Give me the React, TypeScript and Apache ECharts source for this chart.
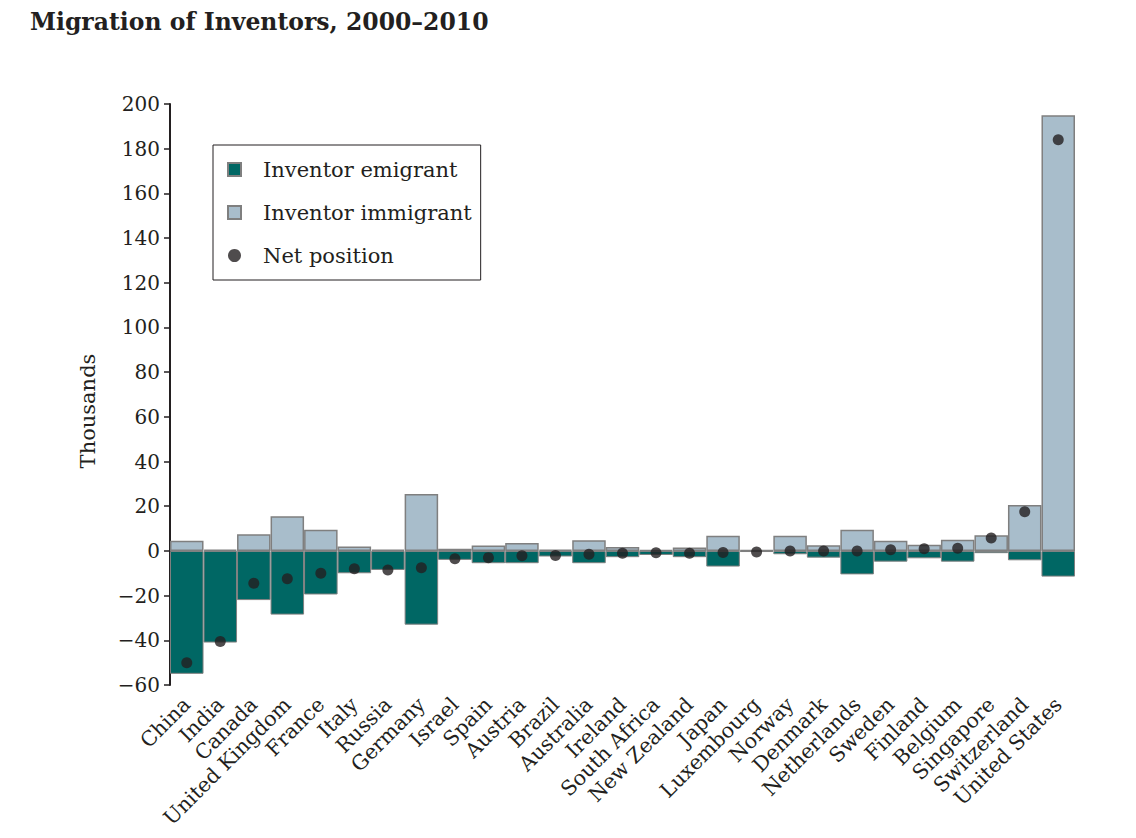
import React, { useEffect, useRef } from "react";
import * as echarts from "echarts";

const countries = ["China","India","Canada","United Kingdom","France","Italy","Russia","Germany","Israel","Spain","Austria","Brazil","Australia","Ireland","South Africa","New Zealand","Japan","Luxembourg","Norway","Denmark","Netherlands","Sweden","Finland","Belgium","Singapore","Switzerland","United States"];
const immigrant = [4.5, 0.5, 7.5, 15.5, 9.5, 2, 0.5, 25.5, 1, 2.4, 3.5, 0.5, 4.8, 1.8, 0.3, 1.5, 6.8, 0.3, 6.8, 2.5, 9.5, 4.5, 2.8, 5, 7, 20.5, 195];
const emigrant = [-55, -41, -22, -28.5, -19.5, -10, -8.5, -33, -4, -5.5, -5.5, -2.5, -5.5, -2.8, -1.8, -2.8, -7, -0.5, -1.5, -3, -10.5, -4.8, -3.3, -4.8, -1, -4.2, -11.5];
const net = [-50, -40.5, -14.5, -12.5, -10, -8, -8.5, -7.5, -3.5, -3, -2.2, -2, -1.5, -1, -0.8, -1, -0.7, -0.5, 0, 0, 0, 0.5, 1, 1.2, 5.8, 17.5, 184];

const FONT = "'DejaVu Serif', 'Liberation Serif', serif";
const INK = "#231f20";

export default function App() {
  const ref = useRef<HTMLDivElement>(null);
  useEffect(() => {
    if (!ref.current) return;
    const chart = echarts.init(ref.current, undefined, { renderer: "svg" });
    chart.setOption({
      animation: false,
      backgroundColor: "#ffffff",
      title: {
        text: "Migration of Inventors, 2000–2010",
        left: 25,
        top: 5,
        textStyle: { fontFamily: FONT, fontWeight: "bold", fontSize: 23.5, color: INK },
      },
      legend: {
        orient: "vertical",
        left: 213,
        top: 145,
        padding: [14, 9, 14, 14],
        itemGap: 22,
        itemWidth: 13,
        itemHeight: 13,
        borderColor: INK,
        borderWidth: 1,
        textStyle: { fontFamily: FONT, fontSize: 21, color: INK, padding: [0, 0, 0, 17] },
        data: [
          { name: "Inventor emigrant", icon: "rect" },
          { name: "Inventor immigrant", icon: "rect" },
          { name: "Net position", icon: "circle" },
        ],
      },
      graphic: [
        {
          type: "text",
          x: 88,
          y: 411,
          rotation: Math.PI / 2,
          style: {
            text: "Thousands",
            fontFamily: FONT,
            fontSize: 21,
            fill: INK,
            textAlign: "center",
            textVerticalAlign: "middle",
          },
        },
      ],
      grid: { left: 170, right: 61, top: 104, bottom: 153, containLabel: false },
      xAxis: {
        type: "category",
        data: countries,
        axisLine: { show: false, onZero: false },
        axisTick: { show: false },
        axisLabel: {
          rotate: 45,
          interval: 0,
          margin: 16,
          fontFamily: FONT,
          fontSize: 20.5,
          color: INK,
        },
      },
      yAxis: {
        type: "value",
        min: -60,
        max: 200,
        interval: 20,
        splitLine: { show: false },
        axisLine: { show: true, lineStyle: { color: INK, width: 2 } },
        axisTick: { show: true, length: 6, lineStyle: { color: INK, width: 1.5 } },
        axisLabel: {
          fontFamily: FONT,
          fontSize: 20,
          color: INK,
          margin: 10,
          formatter: (v: number) => (v < 0 ? "\u2212" + Math.abs(v) : String(v)),
        },
      },
      series: [
        {
          name: "Inventor emigrant",
          type: "bar",
          data: emigrant,
          barGap: "-100%",
          barCategoryGap: "0%",
          itemStyle: { color: "#006764", borderColor: "#7f7f7f", borderWidth: 1 },
        },
        {
          name: "Inventor immigrant",
          type: "bar",
          data: immigrant,
          barGap: "-100%",
          barCategoryGap: "0%",
          itemStyle: { color: "#a8bdcb", borderColor: "#7f7f7f", borderWidth: 1.5 },
        },
        {
          name: "Net position",
          type: "scatter",
          data: net,
          symbol: "circle",
          symbolSize: 11,
          itemStyle: { color: INK },
          z: 5,
        },
      ],
    });
    return () => chart.dispose();
  }, []);
  return (
    <div
      ref={ref}
      style={{ position: "fixed", left: 0, top: 0, width: 1136, height: 838 }}
    />
  );
}
